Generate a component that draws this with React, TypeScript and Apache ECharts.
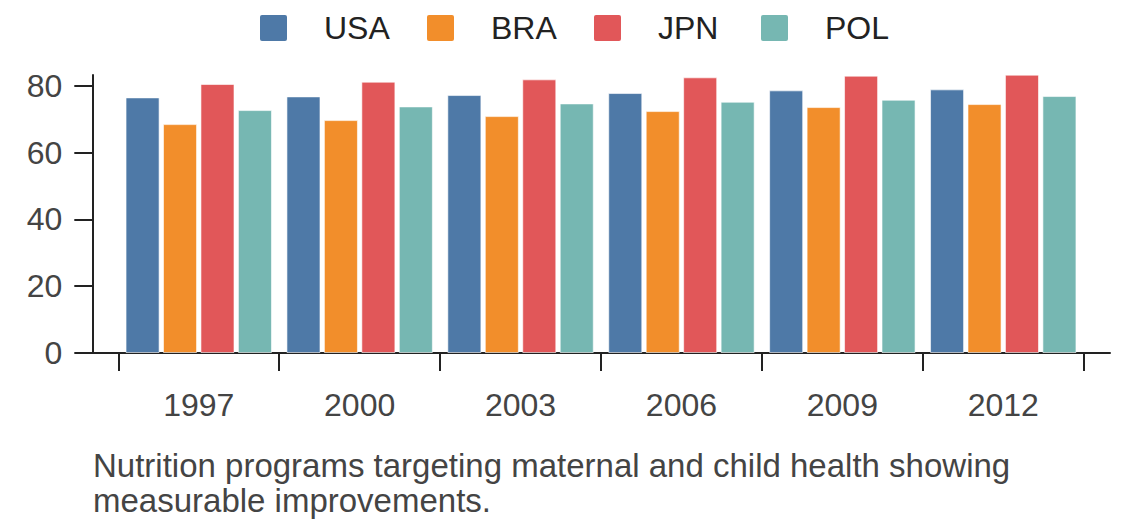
import React, { useEffect, useRef } from "react";
import * as echarts from "echarts";

const years = ["1997", "2000", "2003", "2006", "2009", "2012"];
const usa = [76.5, 76.8, 77.2, 77.8, 78.6, 78.9];
const bra = [68.5, 69.7, 70.9, 72.4, 73.6, 74.5];
const jpn = [80.5, 81.2, 81.9, 82.5, 83.0, 83.3];
const pol = [72.7, 73.8, 74.7, 75.2, 75.8, 76.9];
const seriesNames = ["USA", "BRA", "JPN", "POL"];
const seriesColors = ["#4e79a7", "#f28e2b", "#e15759", "#76b7b2"];
const yTicks = [0, 20, 40, 60, 80];
const caption =
  "Nutrition programs targeting maternal and child health showing\nmeasurable improvements.";

const FONT = "'Liberation Sans', Arial, Helvetica, sans-serif";

export default function App() {
  const ref = useRef<HTMLDivElement>(null);

  useEffect(() => {
    if (!ref.current) return;
    const chart = echarts.init(ref.current, undefined, { renderer: "svg" });
    const values = [usa, bra, jpn, pol];
    const option: any = {
      animation: false,
      backgroundColor: "#ffffff",
      textStyle: { fontFamily: FONT },
      legend: {
        data: seriesNames,
        left: 255,
        top: 7,
        itemWidth: 27,
        itemHeight: 26,
        itemGap: 35,
        icon: "path://M2,0 H25 Q27,0 27,2 V24 Q27,26 25,26 H2 Q0,26 0,24 V2 Q0,0 2,0 Z",
        itemStyle: { borderWidth: 0 },
        textStyle: {
          fontFamily: FONT,
          fontSize: 32,
          color: "#222222",
          lineHeight: 32,
          padding: [0, 0, 0, 32],
          width: 68,
        },
      },
      grid: [
        { left: 118.3, right: 56.3, top: 75, bottom: 175, containLabel: false },
        { left: 92, right: 30, top: 75, bottom: 175, containLabel: false },
      ],
      xAxis: [
        {
          type: "category",
          gridIndex: 0,
          data: years,
          boundaryGap: true,
          axisLine: { show: false },
          axisTick: {
            show: true,
            alignWithLabel: false,
            length: 18,
            lineStyle: { color: "#222222", width: 2 },
          },
          axisLabel: {
            fontFamily: FONT,
            fontSize: 32,
            color: "#444444",
            margin: 36,
          },
          splitLine: { show: false },
        },
        {
          type: "value",
          gridIndex: 1,
          min: 0,
          max: 1,
          axisLine: { show: true, onZero: false, lineStyle: { color: "#222222", width: 2 } },
          axisTick: { show: false },
          axisLabel: { show: false },
          splitLine: { show: false },
        },
      ],
      yAxis: [
        {
          type: "value",
          gridIndex: 0,
          min: 0,
          max: 83.2,
          interval: 20,
          offset: 26,
          axisLine: { show: true, lineStyle: { color: "#222222", width: 2 } },
          axisTick: {
            show: true,
            length: 18,
            customValues: yTicks,
            lineStyle: { color: "#222222", width: 2 },
          },
          axisLabel: {
            fontFamily: FONT,
            fontSize: 32,
            color: "#444444",
            margin: 30,
            customValues: yTicks,
          },
          splitLine: { show: false },
        },
        {
          type: "value",
          gridIndex: 1,
          min: 0,
          max: 1,
          show: false,
        },
      ],
      series: seriesNames.map((name, i) => ({
        name,
        type: "bar",
        xAxisIndex: 0,
        yAxisIndex: 0,
        data: values[i],
        barGap: "10%",
        barCategoryGap: "9%",
        itemStyle: {
          color: seriesColors[i],
          borderColor: "rgba(255,255,255,0.6)",
          borderWidth: 1,
        },
      })),
      graphic: [
        {
          type: "text",
          left: 93,
          top: 448,
          style: {
            text: caption,
            fontFamily: FONT,
            fontSize: 33,
            lineHeight: 35,
            fill: "#444444",
          },
        },
      ],
    };
    chart.setOption(option);
    return () => chart.dispose();
  }, []);

  return (
    <div
      ref={ref}
      style={{ position: "fixed", left: 0, top: 0, width: 1140, height: 528 }}
    />
  );
}
